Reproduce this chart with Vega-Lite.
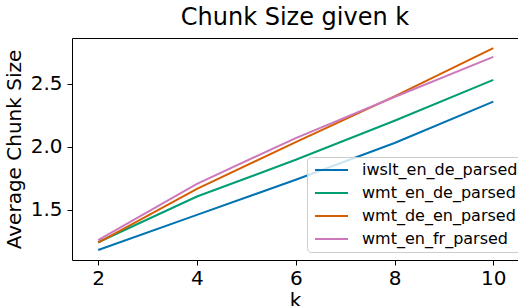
{
  "$schema": "https://vega.github.io/schema/vega-lite/v6.json",
  "width": 446,
  "height": 222,
  "autosize": "none",
  "padding": {"left": 72, "top": 38, "right": 0, "bottom": 46},
  "background": "white",
  "config": {
    "font": "DejaVu Sans",
    "view": {"stroke": "black", "strokeWidth": 1},
    "axis": {"grid": false, "domain": false, "tickColor": "black", "labelColor": "black", "titleColor": "black", "labelFont": "DejaVu Sans", "titleFont": "DejaVu Sans", "titleFontWeight": "normal", "tickSize": 5, "tickWidth": 1}
  },
  "title": {"text": "Chunk Size given k", "fontSize": 24, "fontWeight": "normal", "font": "DejaVu Sans", "color": "black", "offset": 8, "anchor": "middle"},
  "data": {
    "values": [
      {"k": 2, "size": 1.179, "dataset": "iwslt_en_de_parsed"},
      {"k": 4, "size": 1.458, "dataset": "iwslt_en_de_parsed"},
      {"k": 6, "size": 1.737, "dataset": "iwslt_en_de_parsed"},
      {"k": 8, "size": 2.03, "dataset": "iwslt_en_de_parsed"},
      {"k": 10, "size": 2.359, "dataset": "iwslt_en_de_parsed"},
      {"k": 2, "size": 1.24, "dataset": "wmt_en_de_parsed"},
      {"k": 4, "size": 1.604, "dataset": "wmt_en_de_parsed"},
      {"k": 6, "size": 1.896, "dataset": "wmt_en_de_parsed"},
      {"k": 8, "size": 2.207, "dataset": "wmt_en_de_parsed"},
      {"k": 10, "size": 2.532, "dataset": "wmt_en_de_parsed"},
      {"k": 2, "size": 1.237, "dataset": "wmt_de_en_parsed"},
      {"k": 4, "size": 1.665, "dataset": "wmt_de_en_parsed"},
      {"k": 6, "size": 2.037, "dataset": "wmt_de_en_parsed"},
      {"k": 8, "size": 2.401, "dataset": "wmt_de_en_parsed"},
      {"k": 10, "size": 2.784, "dataset": "wmt_de_en_parsed"},
      {"k": 2, "size": 1.258, "dataset": "wmt_en_fr_parsed"},
      {"k": 4, "size": 1.705, "dataset": "wmt_en_fr_parsed"},
      {"k": 6, "size": 2.069, "dataset": "wmt_en_fr_parsed"},
      {"k": 8, "size": 2.396, "dataset": "wmt_en_fr_parsed"},
      {"k": 10, "size": 2.715, "dataset": "wmt_en_fr_parsed"}
    ]
  },
  "mark": {"type": "line", "strokeWidth": 2, "clip": true},
  "encoding": {
    "x": {
      "field": "k", "type": "quantitative",
      "scale": {"domain": [1.47, 10.5], "nice": false, "zero": false},
      "axis": {"values": [2, 4, 6, 8, 10], "labelFontSize": 20, "titleFontSize": 20, "labelPadding": 3, "title": "k", "titlePadding": 2, "labelFlush": false}
    },
    "y": {
      "field": "size", "type": "quantitative",
      "scale": {"domain": [1.099, 2.865], "nice": false, "zero": false},
      "axis": {"values": [1.5, 2.0, 2.5], "format": ".1f", "labelFontSize": 20, "titleFontSize": 20, "labelPadding": 5, "title": "Average Chunk Size", "titlePadding": 6, "labelFlush": false}
    },
    "color": {
      "field": "dataset", "type": "nominal",
      "sort": ["iwslt_en_de_parsed", "wmt_en_de_parsed", "wmt_de_en_parsed", "wmt_en_fr_parsed"],
      "scale": {"domain": ["iwslt_en_de_parsed", "wmt_en_de_parsed", "wmt_de_en_parsed", "wmt_en_fr_parsed"], "range": ["#0173b2", "#029e73", "#d55e00", "#cc78bc"]},
      "legend": {
        "title": null, "orient": "none", "legendX": 235, "legendY": 119,
        "symbolType": "M-1,0H5.6", "symbolSize": 100, "symbolStrokeWidth": 2,
        "labelFontSize": 16, "labelFont": "DejaVu Sans", "labelColor": "black", "labelOffset": 34, "labelLimit": 300,
        "rowPadding": 7, "padding": 5,
        "fillColor": "rgba(255,255,255,0.8)", "strokeColor": "#cccccc", "cornerRadius": 4
      }
    }
  }
}
